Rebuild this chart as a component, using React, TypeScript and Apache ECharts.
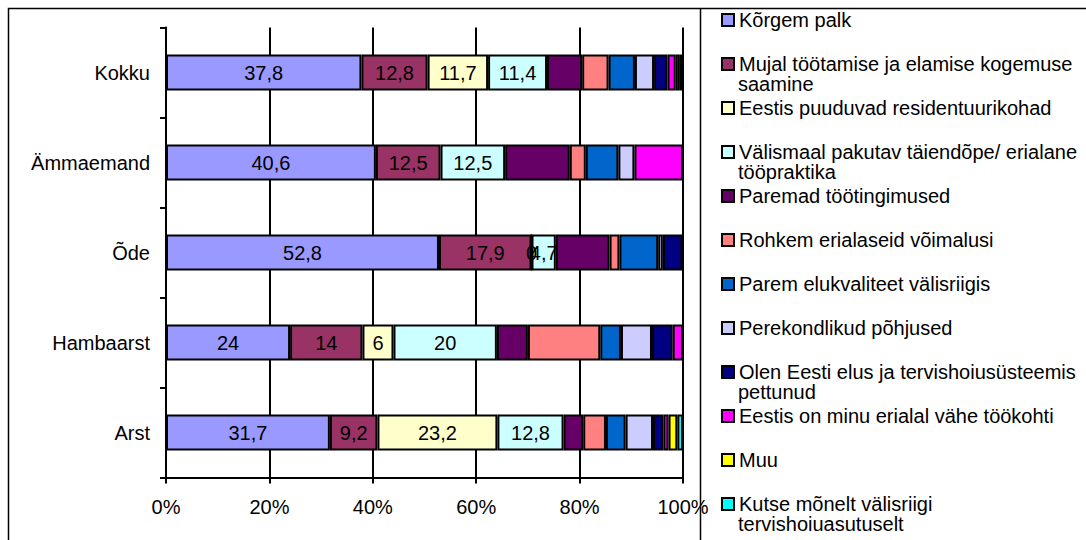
import React, { useEffect, useRef } from "react";
import * as echarts from "echarts";

const categories = ["Arst", "Hambaarst", "Õde", "Ämmaemand", "Kokku"];
const xTicks = [0, 20, 40, 60, 80, 100];

const seriesNames = [
  "Kõrgem palk",
  "Mujal töötamise ja elamise kogemuse saamine",
  "Eestis puuduvad residentuurikohad",
  "Välismaal pakutav täiendõpe/ erialane tööpraktika",
  "Paremad töötingimused",
  "Rohkem erialaseid võimalusi",
  "Parem elukvaliteet välisriigis",
  "Perekondlikud põhjused",
  "Olen Eesti elus ja tervishoiusüsteemis pettunud",
  "Eestis on minu erialal vähe töökohti",
  "Muu",
  "Kutse mõnelt välisriigi tervishoiuasutuselt",
];

const legendFirstLines = [
  "Kõrgem palk",
  "Mujal töötamise ja elamise kogemuse",
  "Eestis puuduvad residentuurikohad",
  "Välismaal pakutav täiendõpe/ erialane",
  "Paremad töötingimused",
  "Rohkem erialaseid võimalusi",
  "Parem elukvaliteet välisriigis",
  "Perekondlikud põhjused",
  "Olen Eesti elus ja tervishoiusüsteemis",
  "Eestis on minu erialal vähe töökohti",
  "Muu",
  "Kutse mõnelt välisriigi",
];
const legendSecondLines = ["", "saamine", "", "tööpraktika", "", "", "", "", "pettunud", "", "", "tervishoiuasutuselt"];

const colors = [
  "#9999FF", "#993366", "#FFFFCC", "#CCFFFF", "#660066", "#FF8080",
  "#0066CC", "#CCCCFF", "#000080", "#FF00FF", "#FFFF00", "#00FFFF",
];

// values per series, in category order: Arst, Hambaarst, Õde, Ämmaemand, Kokku
const korgemPalk = [31.7, 24, 52.8, 40.6, 37.8];
const mujal = [9.2, 14, 17.9, 12.5, 12.8];
const residentuur = [23.2, 6, 0, null, 11.7];
const valismaal = [12.8, 20, 4.7, 12.5, 11.4];
const paremad = [3.8, 6, 10.4, 12.5, 6.8];
const rohkem = [4.4, 14, 1.9, 3.1, 5.1];
const elukvaliteet = [3.8, 4, 7.5, 6.3, 5.1];
const perekond = [5.3, 6, 0.9, 3.1, 3.7];
const pettunud = [2.0, 4, 3.8, null, 2.6];
const vaheTookohti = [1.0, 2, null, 9.4, 1.6];
const muu = [1.7, null, null, null, 0.8];
const kutse = [1.1, null, null, null, 0.6];

const seriesValues = [
  korgemPalk, mujal, residentuur, valismaal, paremad, rohkem,
  elukvaliteet, perekond, pettunud, vaheTookohti, muu, kutse,
];
const labelledSeries = 4;

const FONT = "'Liberation Sans', Arial, sans-serif";
const FS = 20;

export default function App() {
  const ref = useRef<HTMLDivElement>(null);

  useEffect(() => {
    if (!ref.current) return;
    const chart = echarts.init(ref.current, null, { renderer: "svg" });

    const legendTop = 10;
    const legendStep = 44;
    const itemH = 20;

    const graphics: any[] = [
      {
        type: "rect",
        shape: { x: 8.5, y: 8.5, width: 1200, height: 600 },
        style: { fill: "none", stroke: "#000", lineWidth: 1.5 },
        silent: true,
      },
      {
        type: "line",
        shape: { x1: 700.5, y1: 8.5, x2: 700.5, y2: 560 },
        style: { stroke: "#000", lineWidth: 1.5 },
        silent: true,
      },
    ];
    legendSecondLines.forEach((t, i) => {
      if (!t) return;
      graphics.push({
        type: "text",
        x: 738,
        y: legendTop + i * legendStep + itemH / 2 + 20,
        style: {
          text: t,
          fill: "#000",
          font: `${FS}px ${FONT}`,
          textVerticalAlign: "middle",
          verticalAlign: "middle",
        },
        silent: true,
      });
    });

    const option: any = {
      animation: false,
      backgroundColor: "#fff",
      textStyle: { fontFamily: FONT },
      grid: { left: 166, right: 403, top: 27.5, bottom: 62.5, containLabel: false },
      legend: {
        orient: "vertical",
        left: 721,
        top: legendTop,
        itemGap: legendStep - itemH,
        itemWidth: 12,
        itemHeight: 12,
        icon: "rect",
        selectedMode: false,
        padding: 0,
        data: seriesNames,
        formatter: (name: string) => legendFirstLines[seriesNames.indexOf(name)],
        textStyle: { fontSize: FS, fontFamily: FONT, color: "#000", lineHeight: itemH, padding: [0, 0, 0, 0] },
        itemStyle: { borderColor: "#000", borderWidth: 2 },
      },
      xAxis: {
        type: "value",
        min: xTicks[0],
        max: xTicks[xTicks.length - 1],
        interval: xTicks[1] - xTicks[0],
        axisLine: { show: true, lineStyle: { color: "#000", width: 2 } },
        axisTick: { show: true, length: 6, lineStyle: { color: "#000", width: 2 } },
        axisLabel: { formatter: "{value}%", fontSize: FS, fontFamily: FONT, color: "#000", margin: 19 },
        splitLine: { show: true, lineStyle: { color: "#000", width: 2 } },
      },
      yAxis: {
        type: "category",
        data: categories,
        axisLine: { show: true, lineStyle: { color: "#000", width: 2 } },
        axisTick: { show: true, length: 6, lineStyle: { color: "#000", width: 2 } },
        axisLabel: { fontSize: FS, fontFamily: FONT, color: "#000", margin: 16 },
      },
      series: seriesNames.map((name, i) => ({
        name,
        type: "bar",
        stack: "total",
        barWidth: 36,
        data: seriesValues[i],
        itemStyle: { color: colors[i], borderColor: "#000", borderWidth: 2 },
        label: {
          show: i < labelledSeries,
          position: "inside",
          fontSize: FS,
          fontFamily: FONT,
          color: "#000",
          formatter: (p: any) => String(p.value).replace(".", ","),
        },
        emphasis: { disabled: true },
      })),
      graphic: graphics,
    };

    chart.setOption(option);
    return () => chart.dispose();
  }, []);

  return (
    <div
      ref={ref}
      style={{ position: "absolute", left: 0, top: 0, width: 1086, height: 540, background: "#fff" }}
    />
  );
}
